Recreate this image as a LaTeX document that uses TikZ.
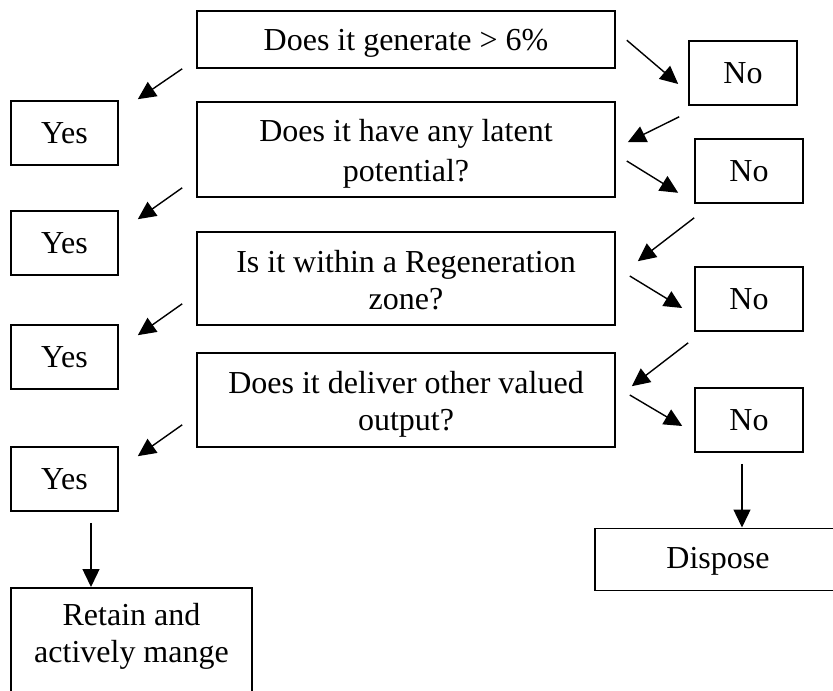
\documentclass[tikz,border=0pt]{standalone}
\usepackage{fontspec}
\setmainfont{Liberation Serif}
\usetikzlibrary{arrows.meta}
\newcommand\tophgt[1]{\rule{0pt}{#1pt}}
\newcommand\botdep[1]{\rule[-#1pt]{0pt}{#1pt}}
\begin{document}
\begin{tikzpicture}[x=1pt,y=-1pt,
  box/.style={draw, line width=1.6pt, inner sep=0pt, align=center,
    font=\fontsize{32}{37}\selectfont},
  qbox/.style={box, minimum width=418pt},
  smallbox/.style={box, minimum width=107pt, minimum height=64pt},
  arr/.style={line width=1.4pt, -{Triangle[length=18pt,width=17pt]}}]
\useasboundingbox (0,0) rectangle (833,691);
\fill[white] (0,0) rectangle (833,691);
\clip (0,0) rectangle (833,691);
% questions
\node[qbox, minimum height=57pt] (q1) at (406,39.5)
  {\tophgt{29}Does it generate > 6\%\botdep{8}};
\node[qbox, minimum height=95pt, font=\fontsize{32}{40}\selectfont] (q2) at (406,149.5)
  {\tophgt{32.4}Does it have any latent\\potential?\botdep{8}};
\node[qbox, minimum height=93pt] (q3) at (406,278.5)
  {\tophgt{32.4}Is it within a Regeneration\\zone?\botdep{8}};
\node[qbox, minimum height=94pt] (q4) at (406,400)
  {\tophgt{32.6}Does it deliver other valued\\output?\botdep{8}};
% yes
\node[smallbox] (y1) at (64.5,133) {Yes};
\node[smallbox] (y2) at (64.5,243) {Yes};
\node[smallbox] (y3) at (64.5,357) {Yes};
\node[smallbox] (y4) at (64.5,479) {Yes};
% no
\node[smallbox, minimum width=108pt] (n1) at (743,73) {No};
\node[smallbox, minimum width=108pt] (n2) at (749,171) {No};
\node[smallbox, minimum width=108pt] (n3) at (749,299) {No};
\node[smallbox, minimum width=108pt] (n4) at (749,420) {No};
% outcomes
\node[box, minimum width=246pt, minimum height=62pt] (disp) at (718,559.3)
  {\tophgt{26.6}Dispose\botdep{8}};
\node[box, minimum width=241pt, anchor=north] (ret) at (131.5,587)
  {\tophgt{38}Retain and\\actively mange\botdep{70}};
% yes arrows
\draw[arr] ([shift={(-14,0)}]q1.south west) -- ([shift={(19,-1)}]y1.north east);
\draw[arr] ([shift={(-14,-10)}]q2.south west) -- ([shift={(19,9)}]y2.north east);
\draw[arr] ([shift={(-14,-22)}]q3.south west) -- ([shift={(19,11)}]y3.north east);
\draw[arr] ([shift={(-14,-23)}]q4.south west) -- ([shift={(19,10)}]y4.north east);
% no arrows
\draw[arr] ([shift={(11,30)}]q1.north east) -- ([shift={(-10,11)}]n1.west);
\draw[arr] ([shift={(-9,11)}]n1.south west) -- ([shift={(12,41)}]q2.north east);
\draw[arr] ([shift={(11,11.5)}]q2.east) -- ([shift={(-16,-11)}]n2.south west);
\draw[arr] ([shift={(0,14)}]n2.south west) -- ([shift={(22,30)}]q3.north east);
\draw[arr] ([shift={(14,-2.5)}]q3.east) -- ([shift={(-12,9)}]n3.west);
\draw[arr] ([shift={(-6,11)}]n3.south west) -- ([shift={(16,34)}]q4.north east);
\draw[arr] ([shift={(14,-5)}]q4.east) -- ([shift={(-12,6)}]n4.west);
% final arrows
\coordinate (ya) at ([shift={(26.5,11)}]y4.south);
\draw[arr] (ya) -- (ya |- ret.north);
\coordinate (na) at ([shift={(-7,11)}]n4.south);
\draw[arr] (na) -- (na |- disp.north);
\end{tikzpicture}
\end{document}
